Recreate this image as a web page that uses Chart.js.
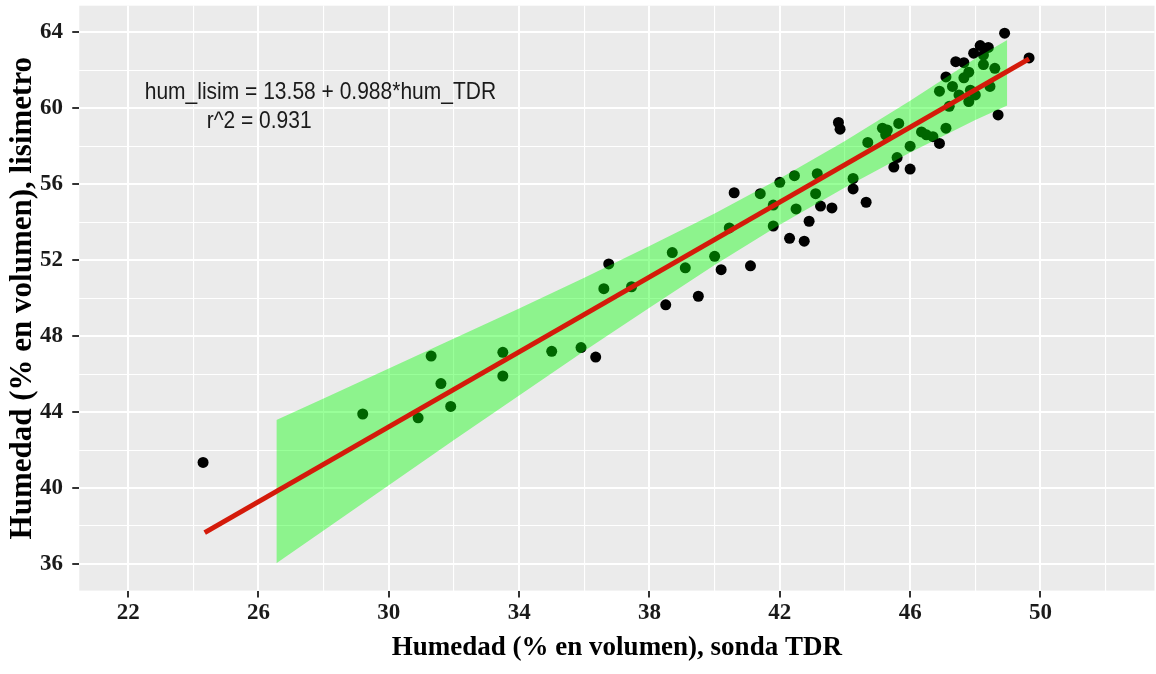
<!DOCTYPE html>
<html lang="es">
<head>
<meta charset="UTF-8">
<title>Humedad: sonda TDR vs lisimetro</title>
<script src="https://cdn.jsdelivr.net/npm/chart.js"></script>
<style>
  html, body { margin: 0; padding: 0; background: #fff; overflow: hidden; }
  #wrap { width: 1160px; height: 674px; }
</style>
</head>
<body>
<div id="wrap"><canvas id="humChart" width="1160" height="674"></canvas></div>
<script>
// humedad (% en volumen): sonda TDR (x) y lisimetro (y)
var humTDR = [24.3, 29.2, 30.9, 31.3, 31.6, 31.9, 33.5, 33.5, 35.0, 35.9,
              36.35, 36.6, 36.75, 37.45, 38.5, 38.7, 39.1, 39.5, 40.0, 40.2,
              40.45, 40.6, 41.1, 41.4, 41.8, 41.8, 42.0, 42.3, 42.45, 42.5,
              42.75, 42.9, 43.1, 43.15, 43.25, 43.6, 43.8, 43.85, 44.25, 44.25,
              44.65, 44.7, 45.15, 45.3, 45.25, 45.65, 45.6, 45.5, 46.0, 46.0,
              46.35, 46.5, 46.7, 46.9, 47.1, 47.2, 46.9, 47.3, 47.1, 47.4,
              47.65, 47.95, 48.15, 48.4, 48.9, 49.65, 48.7, 48.25, 48.25, 48.6,
              47.8, 47.65, 47.5, 47.85, 48.0, 47.8, 48.45];
var humLisim = [41.35, 43.9, 43.7, 46.95, 45.5, 44.3, 47.15, 45.9, 47.2, 47.4,
                46.9, 50.5, 51.8, 50.6, 49.65, 52.4, 51.6, 50.1, 52.2, 51.5,
                53.7, 55.55, 51.7, 55.5, 54.9, 53.8, 56.1, 53.15, 56.45, 54.7,
                53.0, 54.05, 55.5, 56.55, 54.85, 54.75, 59.25, 58.9, 56.3, 55.75,
                55.05, 58.2, 58.95, 58.85, 58.6, 59.2, 57.4, 56.9, 58.0, 56.8,
                58.75, 58.6, 58.5, 58.15, 58.95, 60.1, 60.9, 61.15, 61.65, 62.45,
                62.4, 62.9, 63.3, 63.2, 63.95, 62.65, 59.65, 62.3, 62.8, 62.1,
                61.9, 61.6, 60.7, 60.95, 60.7, 60.35, 61.15];

// recta ajustada (extremos)
var fitX = [24.35, 49.65];
var fitY = [37.65, 62.6];

// banda verde
var bandX    = [26.55, 28, 30, 32, 34, 36, 38, 40, 42, 44, 46, 48, 48.98];
var bandLow  = [36.04, 37.77, 40.15, 42.53, 44.88, 47.22, 49.5, 51.74, 53.86, 55.83, 57.67, 59.38, 60.15];
var bandHigh = [43.58, 44.71, 46.29, 47.87, 49.46, 51.08, 52.74, 54.46, 56.3, 58.27, 60.39, 62.62, 63.6];

var xTickLabels = [22, 26, 30, 34, 38, 42, 46, 50];
var yTickLabels = [36, 40, 44, 48, 52, 56, 60, 64];

var eqText = ['hum_lisim = 13.58 + 0.988*hum_TDR', 'r^2 = 0.931'];

var serif = "'Liberation Serif', 'Times New Roman', serif";

function toXY(xs, ys) {
    return xs.map(function (x, i) { return { x: x, y: ys[i] }; });
}

// major ticks + minor gridlines halfway between
function gridTicks(majors, min, max) {
    var vals = [majors[0] - 2];
    majors.forEach(function (v) { vals.push(v, v + 2); });
    return vals.filter(function (v) { return v >= min && v <= max; })
               .map(function (v) { return { value: v }; });
}

function isMajor(list, v) { return list.indexOf(v) >= 0; }

// keep the panel where ggplot put it
function noEdgePadding(s) {
    s.paddingTop = 0; s.paddingBottom = 0;
    s.paddingLeft = 0; s.paddingRight = 0;
}

var panelBg = {
    id: 'panelBg',
    beforeDraw: function (chart) {
        var a = chart.chartArea, ctx = chart.ctx;
        ctx.save();
        ctx.fillStyle = '#ebebeb';
        ctx.fillRect(a.left, a.top, a.right - a.left, a.bottom - a.top);
        ctx.restore();
    }
};

var eqLabel = {
    id: 'eqLabel',
    afterDatasetsDraw: function (chart) {
        var ctx = chart.ctx, sx = chart.scales.x, sy = chart.scales.y;
        var spots = [[22.51, 60.8], [24.41, 59.28]];
        ctx.save();
        ctx.fillStyle = '#1a1a1a';
        ctx.font = "21px 'Liberation Sans', Arial, sans-serif";
        ctx.textBaseline = 'middle';
        ctx.textAlign = 'left';
        eqText.forEach(function (t, i) {
            ctx.save();
            ctx.translate(sx.getPixelForValue(spots[i][0]), sy.getPixelForValue(spots[i][1]));
            ctx.scale(1, 1.1);
            ctx.fillText(t, 0, 0);
            ctx.restore();
        });
        ctx.restore();
    }
};

new Chart(document.getElementById('humChart'), {
    type: 'scatter',
    data: {
        datasets: [{
            type: 'line',
            data: toXY(fitX, fitY),
            borderColor: '#d41a0a',
            borderWidth: 5,
            pointRadius: 0,
            fill: false,
            order: 0
        }, {
            type: 'line',
            data: toXY(bandX, bandHigh),
            borderWidth: 0,
            borderColor: 'rgba(0,0,0,0)',
            backgroundColor: 'rgba(0,255,0,0.4)',
            pointRadius: 0,
            fill: '+1',
            order: 1
        }, {
            type: 'line',
            data: toXY(bandX, bandLow),
            borderWidth: 0,
            borderColor: 'rgba(0,0,0,0)',
            pointRadius: 0,
            fill: false,
            order: 2
        }, {
            data: toXY(humTDR, humLisim),
            pointRadius: 5.5,
            pointBackgroundColor: '#000',
            pointBorderWidth: 0,
            order: 3
        }]
    },
    options: {
        responsive: false,
        animation: false,
        events: [],
        layout: { padding: { top: 5.7, right: 1.5, left: 0, bottom: 0 } },
        plugins: { legend: { display: false }, tooltip: { enabled: false } },
        scales: {
            x: {
                type: 'linear',
                min: 20.5,
                max: 53.5,
                afterBuildTicks: function (s) { s.ticks = gridTicks(xTickLabels, 20.5, 53.5); },
                afterFit: function (s) { s.height = 83.4; noEdgePadding(s); },
                border: { display: false },
                grid: {
                    color: '#ffffff',
                    lineWidth: function (c) { return c.tick && isMajor(xTickLabels, c.tick.value) ? 2 : 1.1; },
                    tickLength: 7,
                    tickWidth: 2,
                    tickColor: function (c) { return c.tick && isMajor(xTickLabels, c.tick.value) ? '#333' : 'rgba(0,0,0,0)'; }
                },
                ticks: {
                    autoSkip: false,
                    maxRotation: 0,
                    padding: 1.3,
                    color: '#1a1a1a',
                    font: { family: serif, size: 23, weight: 'bold' },
                    callback: function (v) { return isMajor(xTickLabels, v) ? String(v) : ''; }
                },
                title: {
                    display: true,
                    text: 'Humedad (% en volumen), sonda TDR',
                    color: '#000',
                    font: { family: serif, size: 27, weight: 'bold' },
                    padding: { top: 0, bottom: 9.8 }
                }
            },
            y: {
                type: 'linear',
                min: 34.6,
                max: 65.4,
                afterBuildTicks: function (s) { s.ticks = gridTicks(yTickLabels, 34.6, 65.4); },
                afterFit: function (s) { s.width = 79.25; noEdgePadding(s); },
                border: { display: false },
                grid: {
                    color: '#ffffff',
                    lineWidth: function (c) { return c.tick && isMajor(yTickLabels, c.tick.value) ? 2 : 1.1; },
                    tickLength: 7,
                    tickWidth: 2,
                    tickColor: function (c) { return c.tick && isMajor(yTickLabels, c.tick.value) ? '#333' : 'rgba(0,0,0,0)'; }
                },
                ticks: {
                    autoSkip: false,
                    padding: 9.25,
                    color: '#1a1a1a',
                    font: { family: serif, size: 23, weight: 'bold' },
                    callback: function (v) { return isMajor(yTickLabels, v) ? String(v) : ''; }
                },
                title: {
                    display: true,
                    text: 'Humedad (% en volumen), lisimetro',
                    color: '#000',
                    font: { family: serif, size: 31, weight: 'bold' },
                    padding: { top: 4, bottom: 0 }
                }
            }
        }
    },
    plugins: [panelBg, eqLabel]
});
</script>
</body>
</html>
